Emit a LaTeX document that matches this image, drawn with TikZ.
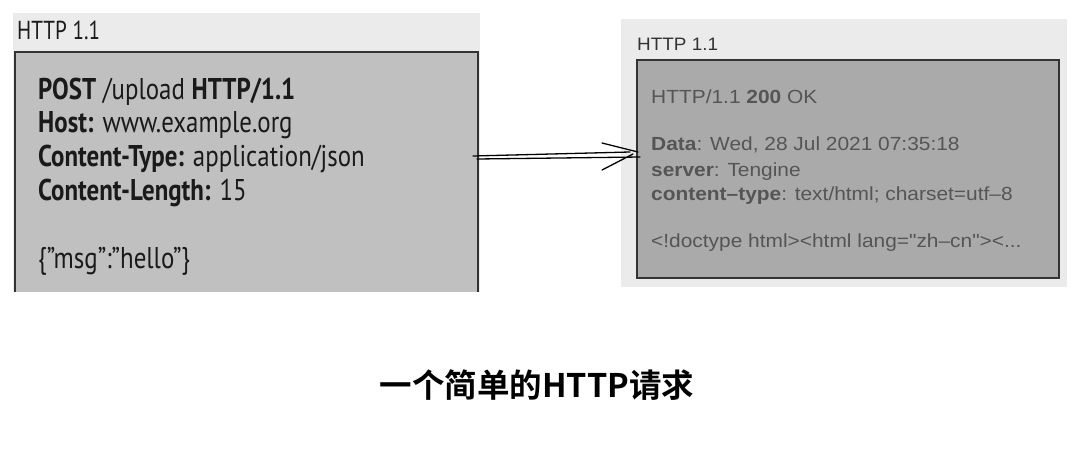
\documentclass[tikz,border=0pt]{standalone}
\usepackage{fontspec}
\newfontfamily\leftfont[FakeStretch=0.83]{PT Sans}
\newfontfamily\leftheadfont[FakeStretch=0.81]{PT Sans}
\newfontfamily\rightfont[FakeStretch=1.1]{Liberation Sans}
\newfontfamily\rheadfont[FakeStretch=1.05]{Liberation Sans}
\newfontfamily\cjk{Noto Sans CJK SC}[BoldFont=* Bold]
\definecolor{lightbg}{HTML}{EBEBEB}
\definecolor{leftfill}{HTML}{C0C0C0}
\definecolor{rightfill}{HTML}{AAAAAA}
\definecolor{edge}{HTML}{333333}
\definecolor{ltext}{HTML}{1A1A1A}
\definecolor{rtext}{HTML}{555555}
\tikzset{
  ltxt/.style={anchor=base west, inner sep=0pt, text=ltext, font=\leftfont\fontsize{30}{34}\selectfont},
  rtxt/.style={anchor=base west, inner sep=0pt, text=rtext, font=\rightfont\fontsize{19}{23}\selectfont},
  stroke/.style={line width=1.3pt, black, line cap=round}
}
\begin{document}
\begin{tikzpicture}[x=1pt,y=-1pt]
\useasboundingbox (0,0) rectangle (1080,453);
\fill[white] (0,0) rectangle (1080,453);
% left panel
\fill[lightbg] (13,13) rectangle (480,292);
\node[fill=leftfill, inner sep=0pt, outer sep=0pt, minimum width=463pt, minimum height=240pt, anchor=north west] (req) at (15,52) {};
\draw[edge, line width=2.5pt] (req.south west) -- (req.north west) -- (req.north east) -- (req.south east);
\node[anchor=base west, inner sep=0pt, text=ltext, font=\leftheadfont\fontsize{26}{30}\selectfont] (lhead) at (17,39) {HTTP 1.1};
\node[ltxt] (l1) at (38,99) {\textbf{POST} /upload \textbf{HTTP/1.1}};
\node[ltxt] (l2) at (38,132) {\textbf{Host:} www.example.org};
\node[ltxt] (l3) at (38,166) {\textbf{Content-Type:} application/json};
\node[ltxt] (l4) at (38,200) {\textbf{Content-Length:} 15};
\node[ltxt] (l5) at (38,268) {\{”msg”:”hello”\}};
% right panel
\fill[lightbg] (621,19) rectangle (1067,287);
\node[draw=edge, line width=2pt, fill=rightfill, inner sep=0pt, minimum width=422pt, minimum height=218pt, anchor=north west] (resp) at (636,59) {};
\node[anchor=base west, inner sep=0pt, text=edge, font=\rheadfont\fontsize{18}{22}\selectfont] (rhead) at (637,50) {HTTP 1.1};
\node[rtxt] (r1) at (651,103) {HTTP/1.1 \textbf{200} OK};
\node[rtxt] (r2) at (651,150) {\textbf{Data}: Wed, 28 Jul 2021 07:35:18};
\node[rtxt] (r3) at (651,176) {\textbf{server}: Tengine};
\node[rtxt] (r4) at (651,200) {\textbf{content–type}: text/html; charset=utf–8};
\node[rtxt] (r5) at (651,247) {<!doctype html><html lang="zh–cn"><...};
% arrow
\coordinate (a1s) at (473,156);
\coordinate (a1e) at (630,152);
\coordinate (a2s) at (477,159);
\coordinate (a2e) at (640,157);
\coordinate (tip) at (638,152);
\coordinate (hu) at (602,143);
\coordinate (hl) at (602,170);
\coordinate (hl2) at (633,154);
\draw[stroke] (a1s) -- (a1e);
\draw[stroke] (a2s) -- (a2e);
\draw[stroke] (hu) -- (tip);
\draw[stroke] (hl) -- (hl2);
% title
\node[anchor=base, inner sep=0pt, font=\cjk\bfseries\fontsize{32.5}{38}\selectfont] (title) at (537,397) {一个简单的HTTP请求};
\end{tikzpicture}
\end{document}
